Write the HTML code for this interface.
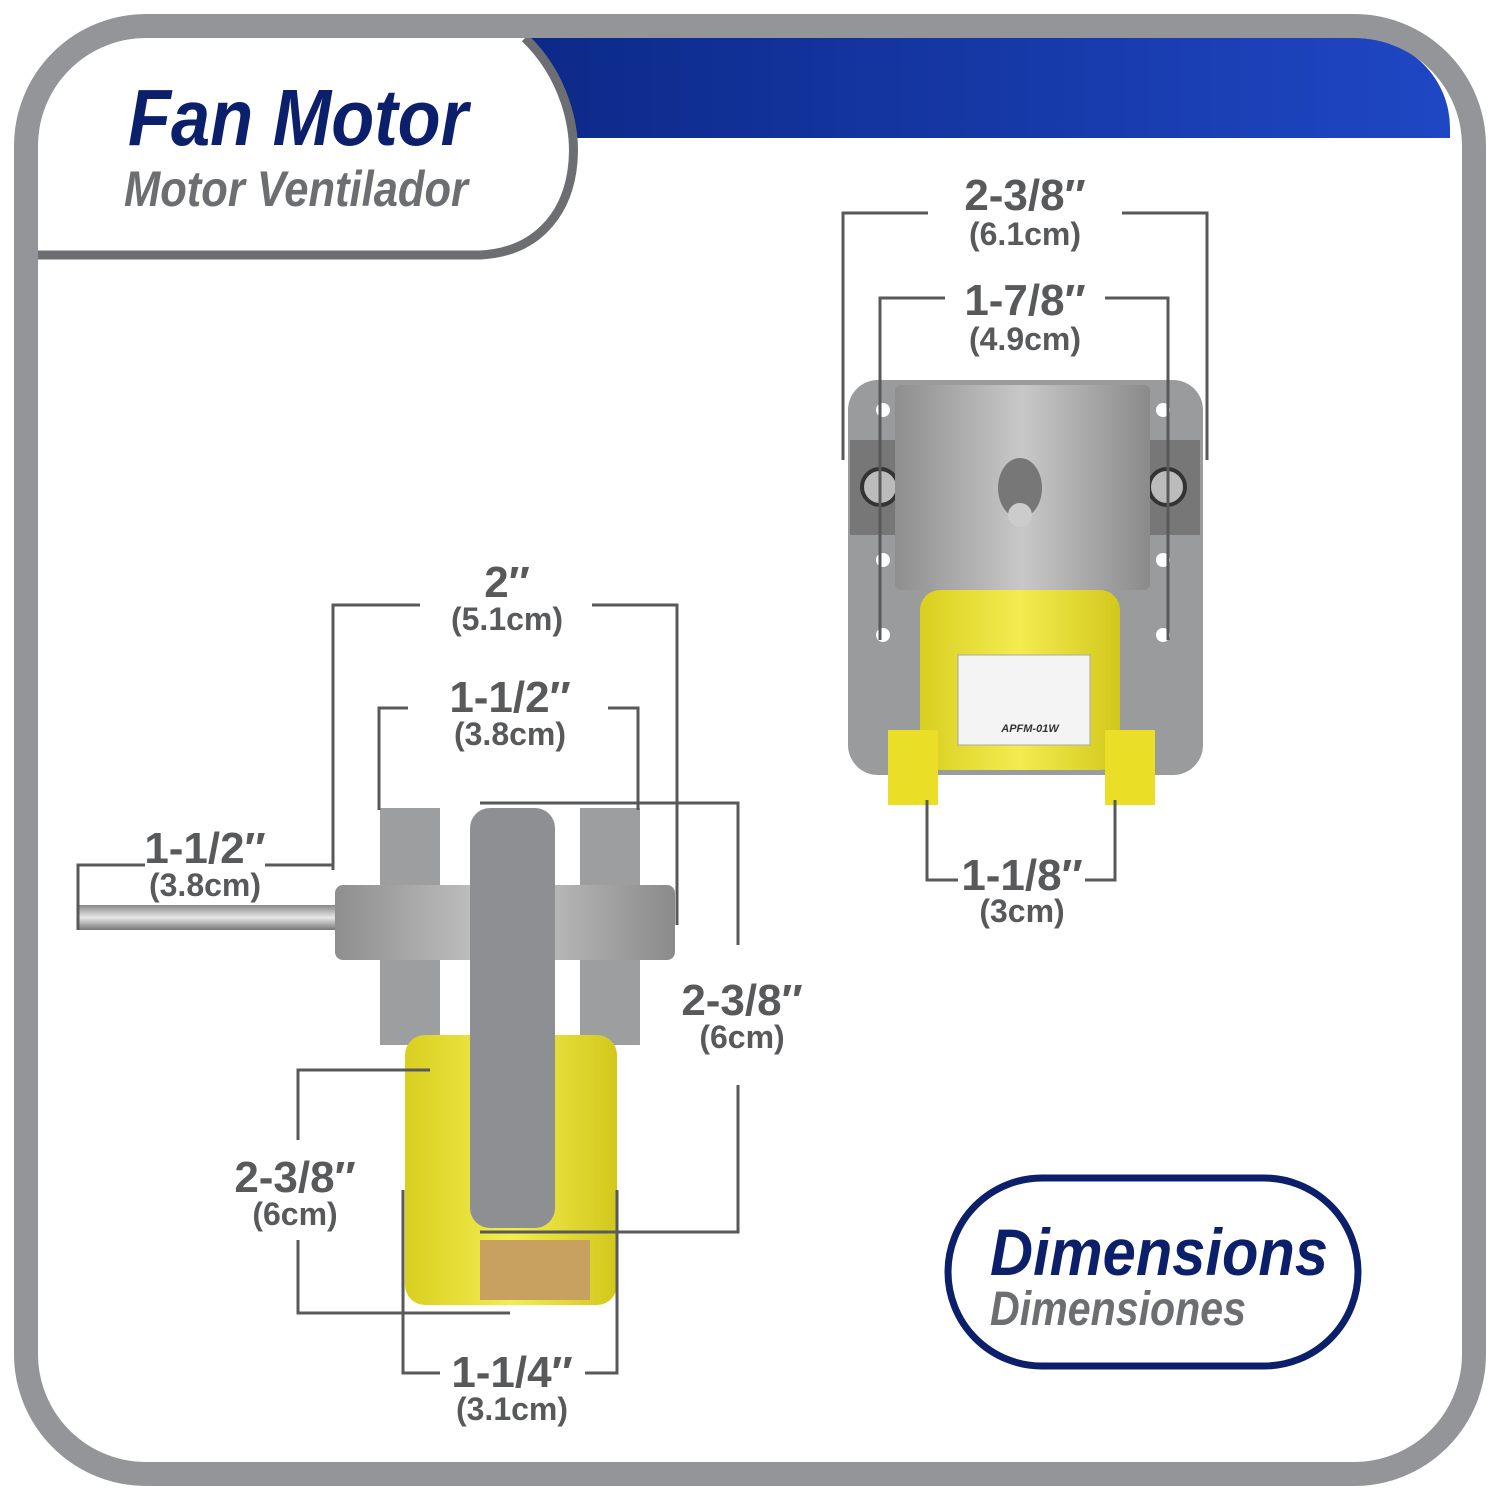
<!DOCTYPE html>
<html><head><meta charset="utf-8"><style>
html,body{margin:0;padding:0;background:#fff}
svg{display:block}
text{font-family:"Liberation Sans",sans-serif;font-weight:bold;font-style:italic}
.d{fill:#58595b;font-style:normal;text-anchor:middle}
.l{stroke:#58595b;stroke-width:3;fill:none}
</style></head><body>
<svg width="1500" height="1500" viewBox="0 0 1500 1500">
<defs>
<linearGradient id="bl" x1="0" x2="1"><stop offset="0" stop-color="#0a2580"/><stop offset="1" stop-color="#1f47c4"/></linearGradient>
<linearGradient id="al" x1="0" x2="1"><stop offset="0" stop-color="#8e8e8e"/><stop offset=".5" stop-color="#c8c8c8"/><stop offset="1" stop-color="#8a8a8a"/></linearGradient>
<linearGradient id="ye" x1="0" x2="1"><stop offset="0" stop-color="#d9cf20"/><stop offset=".5" stop-color="#f3ec50"/><stop offset="1" stop-color="#d2c81c"/></linearGradient>
<linearGradient id="sh" x1="0" y1="0" x2="0" y2="1"><stop offset="0" stop-color="#888"/><stop offset=".5" stop-color="#e8e8e8"/><stop offset="1" stop-color="#777"/></linearGradient>
</defs>
<path d="M390 38 H1360 A90 90 0 0 1 1450 128 V138 H390 Z" fill="url(#bl)"/>
<!-- title pill -->
<path d="M38 38 H525 C600 110 590 220 500 255 H38 Z" fill="#fff"/>
<path d="M38 255 H480 C590 250 600 110 525 38" fill="none" stroke="#6d6e71" stroke-width="9"/>
<!-- frame -->
<rect x="26" y="26" width="1448" height="1448" rx="120" fill="none" stroke="#949598" stroke-width="24"/>
<path d="M0 0 H146 A120 120 0 0 0 14 146 V0 Z M1500 0 H1354 A120 120 0 0 1 1486 146 V0 Z" fill="#fff"/>
<text x="128" y="145" font-size="80" fill="#0b1f6b" textLength="340" lengthAdjust="spacingAndGlyphs">Fan Motor</text>
<text x="124" y="206" font-size="50" fill="#6d6e71" textLength="344" lengthAdjust="spacingAndGlyphs">Motor Ventilador</text>
<!-- dimensions pill -->
<rect x="948" y="1178" width="410" height="188" rx="94" fill="#fff" stroke="#0b1f6b" stroke-width="7"/>
<text x="990" y="1275" font-size="66" fill="#0b1f6b" textLength="338" lengthAdjust="spacingAndGlyphs">Dimensions</text>
<text x="990" y="1325" font-size="48" fill="#6d6e71" textLength="256" lengthAdjust="spacingAndGlyphs">Dimensiones</text>

<!-- right motor -->
<rect x="848" y="380" width="355" height="395" rx="30" fill="#9a9b9d"/>
<rect x="850" y="440" width="60" height="95" fill="#777"/><rect x="1140" y="440" width="60" height="95" fill="#777"/>
<circle cx="880" cy="487" r="18" fill="#bbb" stroke="#333" stroke-width="4"/><circle cx="1167" cy="487" r="18" fill="#bbb" stroke="#333" stroke-width="4"/>
<g fill="#fff"><circle cx="883" cy="410" r="7"/><circle cx="883" cy="560" r="7"/><circle cx="883" cy="635" r="7"/><circle cx="1163" cy="410" r="7"/><circle cx="1163" cy="560" r="7"/><circle cx="1163" cy="635" r="7"/></g>
<rect x="895" y="385" width="255" height="205" rx="6" fill="url(#al)"/>
<ellipse cx="1020" cy="488" rx="22" ry="30" fill="#777"/><circle cx="1020" cy="515" r="12" fill="#ccc"/>
<rect x="920" y="590" width="200" height="180" rx="20" fill="url(#ye)"/>
<rect x="888" y="730" width="50" height="75" fill="#eadf26"/><rect x="1105" y="730" width="50" height="75" fill="#eadf26"/>
<rect x="958" y="655" width="132" height="90" fill="#f4f4f4" stroke="#aaa"/>
<text x="1030" y="732" font-size="11" fill="#333" font-style="normal" text-anchor="middle">APFM-01W</text>
<!-- right dims -->
<path class="l" d="M843 460 V213 H928 M1122 213 H1207 V460 M880 640 V298 H945 M1105 298 H1168 V640 M927 800 V880 H958 M1085 880 H1115 V800"/>
<text class="d" x="1025" y="210" font-size="44">2-3/8″</text><text class="d" x="1025" y="245" font-size="32">(6.1cm)</text>
<text class="d" x="1025" y="315" font-size="44">1-7/8″</text><text class="d" x="1025" y="350" font-size="32">(4.9cm)</text>
<text class="d" x="1022" y="890" font-size="44">1-1/8″</text><text class="d" x="1022" y="922" font-size="32">(3cm)</text>

<!-- left motor -->
<rect x="78" y="905" width="262" height="25" fill="url(#sh)"/>
<rect x="380" y="808" width="60" height="237" fill="#9d9ea0"/><rect x="580" y="808" width="60" height="237" fill="#9d9ea0"/>
<rect x="405" y="1035" width="212" height="270" rx="20" fill="url(#ye)"/>
<rect x="335" y="885" width="340" height="75" rx="8" fill="url(#al)"/>
<rect x="470" y="808" width="85" height="420" rx="20" fill="#8e8f92"/>
<rect x="480" y="1240" width="110" height="60" fill="#c8a060"/>
<!-- left dims -->
<path class="l" d="M333 870 V605 H420 M592 605 H677 V925 M379 810 V708 H408 M608 708 H638 V810 M78 930 V865 H145 M265 865 H333 M480 803 H738 V945 M738 1085 V1232 H480 M430 1070 H298 V1140 M298 1240 V1313 H510 M403 1190 V1373 H440 M585 1373 H617 V1190"/>
<text class="d" x="507" y="597" font-size="44">2″</text><text class="d" x="507" y="630" font-size="32">(5.1cm)</text>
<text class="d" x="510" y="712" font-size="44">1-1/2″</text><text class="d" x="510" y="745" font-size="32">(3.8cm)</text>
<text class="d" x="205" y="863" font-size="44">1-1/2″</text><text class="d" x="205" y="896" font-size="32">(3.8cm)</text>
<text class="d" x="742" y="1015" font-size="44">2-3/8″</text><text class="d" x="742" y="1048" font-size="32">(6cm)</text>
<text class="d" x="295" y="1192" font-size="44">2-3/8″</text><text class="d" x="295" y="1225" font-size="32">(6cm)</text>
<text class="d" x="512" y="1387" font-size="44">1-1/4″</text><text class="d" x="512" y="1420" font-size="32">(3.1cm)</text>
</svg>
</body></html>
